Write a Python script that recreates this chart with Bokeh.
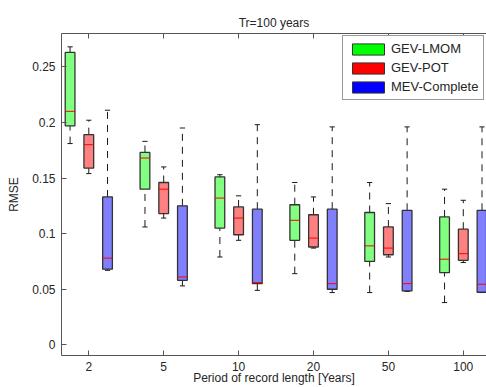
from bokeh.plotting import figure
from bokeh.models import (FixedTicker, LinearAxis, Range1d, ColumnDataSource,
                          Legend, LegendItem)
from bokeh.embed import file_html
from bokeh.resources import INLINE

# ---- data ----
categories = ["2", "5", "10", "20", "50", "100"]
methods = ["GEV-LMOM", "GEV-POT", "MEV-Complete"]
y_ticks = [0, 0.05, 0.1, 0.15, 0.2, 0.25]
y_tick_labels = ["0", "0.05", "0.1", "0.15", "0.2", "0.25"]

lmom_low = [0.181, 0.106, 0.079, 0.064, 0.047, 0.038]
lmom_q1 = [0.197, 0.140, 0.105, 0.094, 0.075, 0.065]
lmom_med = [0.210, 0.168, 0.132, 0.112, 0.089, 0.077]
lmom_q3 = [0.263, 0.173, 0.151, 0.126, 0.119, 0.115]
lmom_high = [0.268, 0.183, 0.153, 0.146, 0.146, 0.140]

pot_low = [0.154, 0.114, 0.094, 0.087, 0.079, 0.074]
pot_q1 = [0.159, 0.118, 0.099, 0.088, 0.081, 0.076]
pot_med = [0.180, 0.140, 0.114, 0.096, 0.087, 0.082]
pot_q3 = [0.189, 0.146, 0.124, 0.117, 0.106, 0.104]
pot_high = [0.202, 0.160, 0.134, 0.133, 0.127, 0.130]

mev_low = [0.067, 0.053, 0.049, 0.047, 0.048, 0.047]
mev_q1 = [0.068, 0.058, 0.055, 0.050, 0.0485, 0.0473]
mev_med = [0.078, 0.061, 0.056, 0.055, 0.055, 0.0545]
mev_q3 = [0.133, 0.125, 0.122, 0.122, 0.121, 0.121]
mev_high = [0.211, 0.195, 0.198, 0.196, 0.196, 0.196]

series = [
    (lmom_low, lmom_q1, lmom_med, lmom_q3, lmom_high),
    (pot_low, pot_q1, pot_med, pot_q3, pot_high),
    (mev_low, mev_q1, mev_med, mev_q3, mev_high),
]

# ---- styles ----
box_fills = ["#80ff80", "#ff8080", "#8080ff"]
legend_fills = ["#00ff00", "#ff0000", "#0000ff"]
offsets = [-0.25, 0.0, 0.25]
box_w = 0.13
cap_w = 0.07
FONT = "Liberation Sans"
TXT = "#262626"
AX = "#555555"

p = figure(width=486, height=387, output_backend="svg", toolbar_location=None,
           x_range=Range1d(0.6355, 6.31), y_range=Range1d(-0.0096, 0.28),
           min_border_left=61, min_border_right=0, min_border_top=33,
           min_border_bottom=31, title="Tr=100 years")
p.outline_line_color = None
p.grid.visible = False
p.background_fill_color = "white"

positions = list(range(1, len(categories) + 1))

for k, (lo, q1, med, q3, hi) in enumerate(series):
    xs = [pos + offsets[k] for pos in positions]
    src = ColumnDataSource(dict(x=xs, lo=lo, q1=q1, med=med, q3=q3, hi=hi,
                                xl=[x - box_w / 2 for x in xs],
                                xr=[x + box_w / 2 for x in xs],
                                cl=[x - cap_w / 2 for x in xs],
                                cr=[x + cap_w / 2 for x in xs]))
    # whiskers
    p.segment(x0="x", y0="q3", x1="x", y1="hi", source=src,
              line_color="#1a1a1a", line_width=1, line_dash="7 6")
    p.segment(x0="x", y0="lo", x1="x", y1="q1", source=src,
              line_color="#1a1a1a", line_width=1, line_dash="7 6")
    # caps
    p.segment(x0="cl", y0="hi", x1="cr", y1="hi", source=src,
              line_color="#1a1a1a", line_width=1)
    p.segment(x0="cl", y0="lo", x1="cr", y1="lo", source=src,
              line_color="#1a1a1a", line_width=1)
    # boxes
    p.vbar(x="x", width=box_w, bottom="q1", top="q3", source=src,
           fill_color=box_fills[k], line_color="#333333", line_width=1.3)
    # medians
    p.segment(x0="xl", y0="med", x1="xr", y1="med", source=src,
              line_color="#ff0000", line_width=1)

# legend renderers (a single NaN row: nothing drawn, only legend swatches)
items = []
for k, name in enumerate(methods):
    r = p.vbar(x=[float("nan")], top=[float("nan")], width=0.1,
               fill_color=legend_fills[k], line_color="#333333", line_width=1)
    items.append(LegendItem(label=name, renderers=[r]))
legend = Legend(items=items, location=(281, 255))
legend.glyph_width = 40
legend.glyph_height = 14
legend.label_text_font = FONT
legend.label_text_font_size = "13px"
legend.label_text_color = TXT
legend.label_standoff = 3
legend.spacing = 4
legend.padding = 5
legend.margin = 0
legend.border_line_color = "#333333"
legend.border_line_width = 1
legend.background_fill_alpha = 1
p.add_layout(legend, "center")

# axes
def style_axis(ax):
    ax.axis_line_color = AX
    ax.major_tick_line_color = AX
    ax.minor_tick_line_color = None
    ax.major_tick_in = 5
    ax.major_tick_out = 0
    ax.major_label_text_font = FONT
    ax.major_label_text_font_size = "12px"
    ax.major_label_text_color = TXT
    ax.axis_label_text_font = FONT
    ax.axis_label_text_font_size = "12px"
    ax.axis_label_text_color = TXT
    ax.axis_label_text_font_style = "normal"

xax = p.xaxis[0]
xax.ticker = FixedTicker(ticks=positions)
xax.major_label_overrides = {pos: c for pos, c in zip(positions, categories)}
xax.axis_label = "Period of record length [Years]"
xax.axis_label_standoff = -3
xax.major_label_standoff = 6
style_axis(xax)

yax = p.yaxis[0]
yax.ticker = FixedTicker(ticks=y_ticks)
yax.major_label_overrides = {t: l for t, l in zip(y_ticks, y_tick_labels)}
yax.axis_label = "RMSE"
yax.axis_label_standoff = 8
yax.major_label_standoff = 6
style_axis(yax)

top = LinearAxis(ticker=FixedTicker(ticks=positions))
style_axis(top)
top.major_label_text_color = None
top.major_label_standoff = 0
p.add_layout(top, "above")

p.title.align = "center"
p.title.text_font = FONT
p.title.text_font_size = "12px"
p.title.text_font_style = "normal"
p.title.text_color = TXT
p.title.standoff = 7

open("out.html", "w").write(file_html(p, INLINE))
